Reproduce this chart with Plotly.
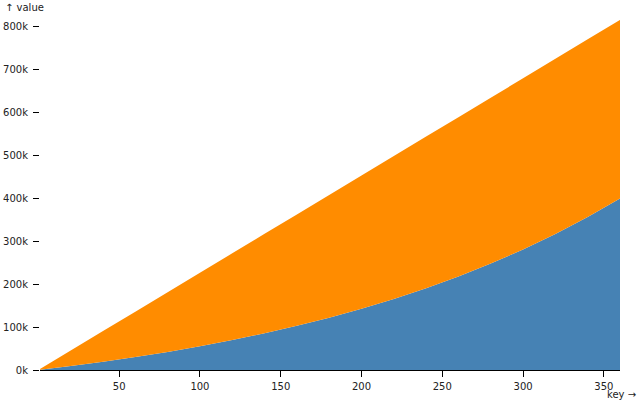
import plotly.graph_objects as go

# Data (cumulative values, stacked)
keys = [1, 20, 40, 60, 80, 100, 120, 140, 160, 180, 200, 220, 240, 260, 280, 300, 320, 340, 360]
blue_values = [440, 9150, 19170, 30160, 42190, 55380, 69840, 85670, 103020, 122030,
               142870, 165710, 190720, 218140, 248180, 281090, 317160, 356680, 400000]
orange_values = [1830, 36210, 71550, 105920, 139250, 171420, 202330, 231850, 259860, 286210,
                 310730, 333250, 353600, 371540, 386870, 399310, 408600, 414440, 416480]
y_tick_vals = [0, 100000, 200000, 300000, 400000, 500000, 600000, 700000, 800000]
y_tick_text = ["0k", "100k", "200k", "300k", "400k", "500k", "600k", "700k", "800k"]
x_tick_vals = [50, 100, 150, 200, 250, 300, 350]

FONT = "DejaVu Sans, sans-serif"
TXT = "#222222"

fig = go.Figure()
fig.add_trace(go.Scatter(x=keys, y=blue_values, stackgroup="one", mode="none",
                         fillcolor="#4682b4", line=dict(width=0), hoverinfo="skip",
                         name="blue"))
fig.add_trace(go.Scatter(x=keys, y=orange_values, stackgroup="one", mode="none",
                         fillcolor="#ff8c00", line=dict(width=0), hoverinfo="skip",
                         name="orange"))

fig.update_layout(
    width=640, height=400,
    margin=dict(l=40, r=20, t=20, b=30, pad=0, autoexpand=False),
    paper_bgcolor="white", plot_bgcolor="white",
    showlegend=False,
    font=dict(family=FONT, size=10, color=TXT),
    xaxis=dict(range=[1, 360], tickvals=x_tick_vals, ticks="outside", ticklen=6,
               tickcolor="black", tickwidth=1, showgrid=False, zeroline=False,
               showline=True, linecolor="black", linewidth=1, automargin=False,
               ticklabelstandoff=1,
               tickfont=dict(family=FONT, size=10, color=TXT)),
    yaxis=dict(range=[0, 816300], tickvals=y_tick_vals, ticktext=y_tick_text,
               ticks="outside", ticklen=6, tickcolor="black", tickwidth=1,
               showgrid=False, zeroline=False, showline=False, automargin=False,
               ticklabelstandoff=3,
               tickfont=dict(family=FONT, size=10, color=TXT)),
    annotations=[
        dict(text="↑ value", xref="paper", yref="paper", x=(3 - 40) / 580, y=(370 - 7) / 350,
             xanchor="left", yanchor="middle", showarrow=False,
             font=dict(family=FONT, size=10, color=TXT)),
        dict(text="key →", xref="paper", yref="paper", x=(638 - 40) / 580, y=(370 - 394) / 350,
             xanchor="right", yanchor="middle", showarrow=False,
             font=dict(family=FONT, size=10, color=TXT)),
    ],
)

fig.write_html("out.html", config={"displayModeBar": False, "staticPlot": True},
               post_script="document.body.style.margin='0';document.body.style.padding='0';")
